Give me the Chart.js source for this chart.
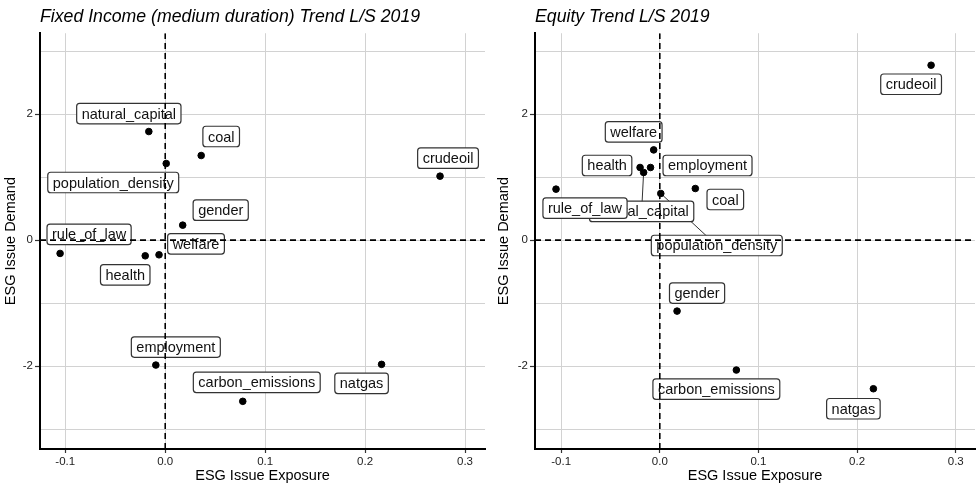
<!DOCTYPE html>
<html>
<head>
<meta charset="utf-8">
<script src="https://cdn.jsdelivr.net/npm/chart.js@4.4.1/dist/chart.umd.min.js"></script>
<style>
  body { margin: 0; background: #fff; width: 980px; height: 486px; overflow: hidden; }
  canvas { position: absolute; top: 0; }
</style>
</head>
<body>
<canvas id="fixedIncomeChart" width="490" height="486" style="left:0"></canvas>
<canvas id="equityChart" width="490" height="486" style="left:490px"></canvas>
<script>
// ================= DATA =================
const issues = [
  "natural_capital", "coal", "population_density", "crudeoil", "gender",
  "rule_of_law", "welfare", "health", "employment", "carbon_emissions", "natgas"
];

// exposure of each issue (same in both panels)
const exposure = [-0.0164, 0.036, 0.001, 0.275, 0.0175, -0.1052, -0.0062, -0.020, -0.0094, 0.0776, 0.2165];

const fixedIncomeDemand = [1.725, 1.344, 1.217, 1.016, 0.238, -0.211, -0.233, -0.249, -1.984, -2.56, -1.973];
const equityDemand      = [1.075, 0.82, 0.741, 2.778, -1.127, 0.81, 1.433, 1.154, 1.154, -2.063, -2.36];

const xTicks = [-0.1, 0, 0.1, 0.2, 0.3];
const yGridLines = [-3, -2, -1, 0, 1, 2, 3];
const yTickLabels = [-2, 0, 2];

const Y_MIN = -3.317, Y_MAX = 3.286;


// ================= LABEL PLACEMENT (pixel offsets, like ggrepel) =================
const fixedIncomeLabels = {
  natural_capital:    { dx: -20, dy: -18 },
  coal:               { dx: 20,  dy: -19 },
  population_density: { dx: -53, dy: 19 },
  crudeoil:           { dx: 8,   dy: -18 },
  gender:             { dx: 38,  dy: -15 },
  rule_of_law:        { dx: 29,  dy: -19 },
  welfare:            { dx: 37,  dy: -11 },
  health:             { dx: -20, dy: 19 },
  employment:         { dx: 20,  dy: -18 },
  carbon_emissions:   { dx: 14,  dy: -19 },
  natgas:             { dx: -20, dy: 19 }
};

const equityLabels = {
  natural_capital:    { dx: -2,  dy: 39, leader: true },
  coal:               { dx: 30,  dy: 11 },
  population_density: { dx: 56,  dy: 52, leader: true },
  crudeoil:           { dx: -20, dy: 19 },
  gender:             { dx: 20,  dy: -18 },
  rule_of_law:        { dx: 29,  dy: 19 },
  welfare:            { dx: -20, dy: -18 },
  health:             { dx: -33, dy: -2 },
  employment:         { dx: 57,  dy: -2 },
  carbon_emissions:   { dx: -20, dy: 19 },
  natgas:             { dx: -20, dy: 20 }
};


// ================= STYLE =================
const FONT = "'Liberation Sans', Arial, Helvetica, sans-serif";


// ================= LABEL PLUGIN =================
const issueLabelPlugin = {
  id: "issueLabels",
  beforeDatasetsDraw(chart, args, opts) {
    const { ctx, scales } = chart;
    const data = chart.data.datasets[0].data;
    const placed = issues.map((name, i) => {
      const px = scales.x.getPixelForValue(data[i].x);
      const py = scales.y.getPixelForValue(data[i].y);
      const off = opts.placement[name];
      return { name, px, py, cx: px + off.dx, cy: py + off.dy, leader: off.leader };
    });

    ctx.save();

    // leader segments
    ctx.strokeStyle = "#333";
    ctx.lineWidth = 1;
    placed.filter(p => p.leader).forEach(p => {
      ctx.beginPath();
      ctx.moveTo(p.px, p.py);
      ctx.lineTo(p.cx, p.cy);
      ctx.stroke();
    });

    // boxes
    ctx.font = "14.5px " + FONT;
    ctx.textAlign = "center";
    ctx.textBaseline = "middle";
    placed.forEach(p => {
      const w = ctx.measureText(p.name).width + 10;
      const h = 20.5;
      roundRect(ctx, p.cx - w / 2, p.cy - h / 2, w, h, 3);
      ctx.fillStyle = "#fff";
      ctx.fill();
      ctx.strokeStyle = "#333";
      ctx.lineWidth = 1.2;
      ctx.stroke();
      ctx.fillStyle = "#111";
      ctx.fillText(p.name, p.cx, p.cy + 1);
    });

    ctx.restore();
  }
};

function roundRect(ctx, x, y, w, h, r) {
  ctx.beginPath();
  ctx.moveTo(x + r, y);
  ctx.lineTo(x + w - r, y);
  ctx.quadraticCurveTo(x + w, y, x + w, y + r);
  ctx.lineTo(x + w, y + h - r);
  ctx.quadraticCurveTo(x + w, y + h, x + w - r, y + h);
  ctx.lineTo(x + r, y + h);
  ctx.quadraticCurveTo(x, y + h, x, y + h - r);
  ctx.lineTo(x, y + r);
  ctx.quadraticCurveTo(x, y, x + r, y);
  ctx.closePath();
}


// ================= BUILD CHART =================
function buildChart(canvasId, title, demand, placement, frame) {

  const points = exposure.map((x, i) => ({ x, y: demand[i] }));

  const refLine = {
    data: [],
    showLine: true,
    borderColor: "#000",
    borderWidth: 1.6,
    borderDash: [6, 4],
    pointRadius: 0,
    order: 0
  };

  new Chart(document.getElementById(canvasId), {
    type: "scatter",
    data: {
      datasets: [
        {
          data: points,
          backgroundColor: "#000",
          borderColor: "#000",
          pointRadius: 3.3,
          order: 1
        },
        { ...refLine, data: [{ x: 0, y: Y_MIN }, { x: 0, y: Y_MAX }] },
        { ...refLine, data: [{ x: frame.xMin, y: 0 }, { x: frame.xMax, y: 0 }] }
      ]
    },
    options: {
      responsive: false,
      animation: false,
      layout: { padding: { top: 0, right: frame.rightPad, bottom: 0, left: 0 } },
      plugins: {
        legend: { display: false },
        tooltip: { enabled: false },
        title: {
          display: true,
          text: title,
          align: "start",
          fullSize: false,
          color: "#000",
          font: { family: FONT, size: 17.7, style: "italic", weight: "normal" },
          padding: { top: 6.7, bottom: 5.3 }
        },
        issueLabels: { placement }
      },
      scales: {
        x: {
          type: "linear",
          min: frame.xMin,
          max: frame.xMax,
          afterBuildTicks: scale => { scale.ticks = xTicks.map(value => ({ value })); },
          afterFit: scale => { scale.height = 37; },
          grid: {
            color: "#d2d2d2",
            lineWidth: 1,
            tickColor: "#333",
            tickLength: 4,
            tickWidth: 1.2
          },
          border: { display: true, color: "#000", width: 2 },
          ticks: {
            padding: 2,
            color: "#222",
            font: { family: FONT, size: 11.5 },
            callback: v => v.toFixed(1)
          },
          title: {
            display: true,
            text: "ESG Issue Exposure",
            color: "#000",
            font: { family: FONT, size: 14.5 },
            padding: { top: 0, bottom: 1 }
          }
        },
        y: {
          type: "linear",
          min: Y_MIN,
          max: Y_MAX,
          afterBuildTicks: scale => { scale.ticks = yGridLines.map(value => ({ value })); },
          afterFit: scale => { scale.width = frame.yWidth; },
          grid: {
            color: "#d2d2d2",
            lineWidth: 1,
            tickColor: ctx => yTickLabels.includes(ctx.tick.value) ? "#333" : "rgba(0,0,0,0)",
            tickLength: 5,
            tickWidth: 1.2
          },
          border: { display: true, color: "#000", width: 2 },
          ticks: {
            padding: 2,
            color: "#222",
            font: { family: FONT, size: 11.5 },
            callback: v => yTickLabels.includes(v) ? String(v) : ""
          },
          title: {
            display: true,
            text: "ESG Issue Demand",
            color: "#000",
            font: { family: FONT, size: 14.5 },
            padding: { top: frame.yTitlePad, bottom: 0 }
          }
        }
      }
    },
    plugins: [issueLabelPlugin]
  });
}


// ================= START =================
buildChart("fixedIncomeChart", "Fixed Income (medium duration) Trend L/S 2019",
  fixedIncomeDemand, fixedIncomeLabels,
  { xMin: -0.1253, xMax: 0.32, yWidth: 40, rightPad: 3, yTitlePad: 2 });
buildChart("equityChart", "Equity Trend L/S 2019",
  equityDemand, equityLabels,
  { xMin: -0.1265, xMax: 0.3195, yWidth: 45, rightPad: 0, yTitlePad: 5 });
</script>
</body>
</html>
